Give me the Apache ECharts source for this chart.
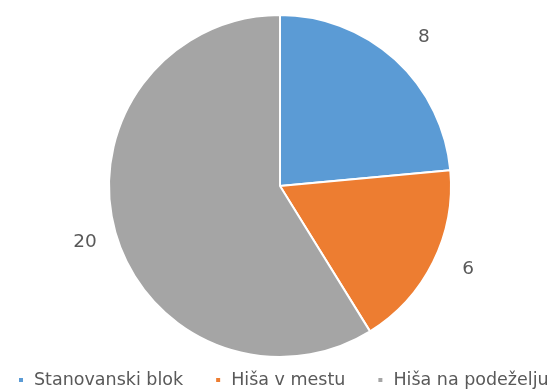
<!DOCTYPE html>
<html><head><meta charset="utf-8">
<script src="https://cdn.jsdelivr.net/npm/echarts@6/dist/echarts.min.js"></script>
<style>html,body{margin:0;padding:0;background:#fff}#c{width:553px;height:389px}</style>
</head><body><div id="c"></div>
<script>
const categories = ['Stanovanski blok', 'Hiša v mestu', 'Hiša na podeželju'];
const values = [8, 6, 20];
const colors = ['#5B9BD5', '#ED7D31', '#A5A5A5'];
const labelNudges = [[3, 6], [1, -10], [6, -1]];

const chart = echarts.init(document.getElementById('c'));
const data = categories.map((n, i) => ({ name: n, value: values[i], itemStyle: { color: colors[i] } }));
chart.setOption({
  animation: false,
  legend: {
    data: categories,
    top: 371,
    left: 17,
    width: 540,
    padding: 0,
    icon: 'rect',
    itemWidth: 6, itemHeight: 6,
    itemGap: 31,
    textStyle: { color: '#595959', fontSize: 17.5, fontFamily: 'DejaVu Sans', padding: [0, 0, 0, 5] }
  },
  series: [{
    type: 'pie',
    center: [280, 186],
    radius: [0, 171],
    startAngle: 90,
    clockwise: true,
    silent: true,
    itemStyle: { borderColor: '#fff', borderWidth: 2 },
    label: { show: false },
    labelLine: { show: false },
    data: data
  }, {
    type: 'pie',
    center: [280, 186],
    radius: [0, 412],
    startAngle: 90,
    clockwise: true,
    silent: true,
    itemStyle: { color: 'rgba(0,0,0,0)' },
    label: { show: true, position: 'inside', formatter: '{c}', color: '#595959', fontSize: 18.5, fontFamily: 'DejaVu Sans' },
    labelLine: { show: false },
    data: categories.map((n, i) => ({ name: n, value: values[i], label: { offset: labelNudges[i] } }))
  }]
});
</script></body></html>
